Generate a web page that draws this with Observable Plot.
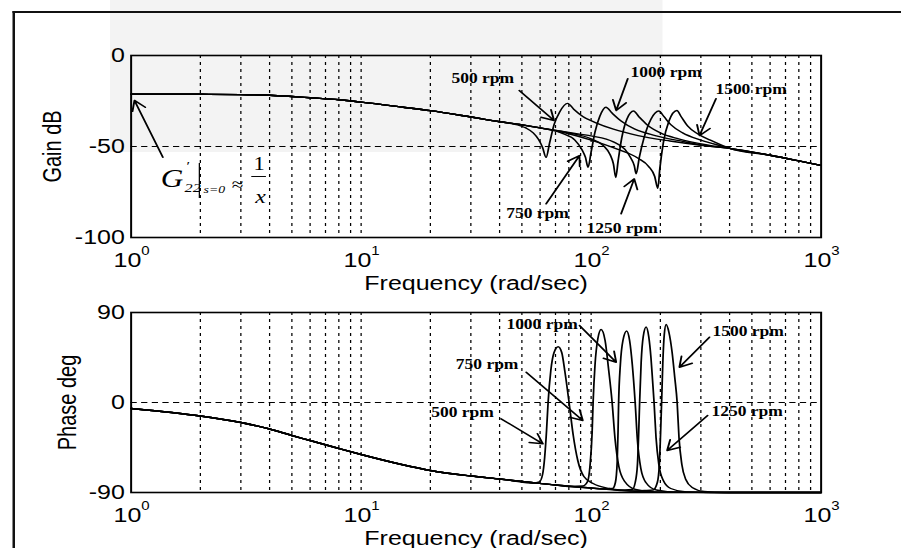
<!DOCTYPE html>
<html><head><meta charset="utf-8">
<script src="https://cdn.jsdelivr.net/npm/d3@7"></script>
<script src="https://cdn.jsdelivr.net/npm/@observablehq/plot@0.6"></script>
<style>
html,body{margin:0;padding:0;background:#fff;overflow:hidden;width:901px;height:548px}
#stage{position:absolute;left:0;top:0;width:721px;height:548px;transform:scaleX(1.25);transform-origin:0 0}
#shade{position:absolute;left:88px;top:0;width:442px;height:152px;background:#f3f3f3}
#frame{position:absolute;left:9.6px;top:11px;width:760px;height:600px;border-left:2px solid #111;border-top:2px solid #111}
#top,#bot{position:absolute;left:0}
#top{top:0}
#bot{top:290px}
</style></head><body>
<div id="stage"><div id="shade"></div><div id="frame"></div><div id="top"></div><div id="bot"></div></div>
<script>
// ---------- data ----------
const rpmNames = ["500 rpm", "750 rpm", "1000 rpm", "1250 rpm", "1500 rpm"];
const gridFreqs = [2,3,4,5,6,7,8,9,10,20,30,40,50,60,70,80,90,100,200,300,400,500,600,700,800,900];
const decades = [1, 10, 100, 1000];
const decadeExp = ["0", "1", "2", "3"];
const gainTicks = [0, -50, -100];
const phaseTicks = [90, 0, -90];
const gainGrid = [-50];
const phaseGrid = [0];

// gain, shared low-frequency response (rad/s, dB)
const gainBaseF = [1,1.5,2,3,4,5,6,8,10,15,20,30,40,50,60,80,100,150,200,300,400,600,800,1000];
const gainBaseV = [-21.2,-21.2,-21.3,-21.5,-21.8,-22.5,-23.2,-24.3,-25.6,-28.3,-30.3,-33.8,-36.4,-38.1,-39.8,-42.3,-44.0,-46.3,-47.7,-49.6,-51.0,-54.8,-57.9,-60.4];
// gain near each resonance
const g500F = [45,52,56,59,61.5,63.7,66,69,73,79,84,92,105,125,160,220,300];
const g500V = [-37.4,-39.8,-42.5,-46,-50.5,-56,-48,-38,-31,-26.3,-29.5,-33.5,-37,-40.5,-44,-47,-49.3];
const g750F = [60,75,85,91,94.5,97,100,104,109,116,123,135,155,190,250,330];
const g750V = [-39.8,-42.8,-46.5,-51.5,-56,-61.4,-53,-42,-33.5,-28.4,-31.5,-36,-40.5,-44,-47.2,-49.9];
const g1000F = [80,100,113,121,125,128,131,136,143,153,161,175,200,240,320];
const g1000V = [-42.5,-45.8,-49.5,-54.5,-59.5,-67,-58,-45,-35,-30.5,-33.5,-38,-42.5,-45.8,-49.2];
const g1250F = [100,125,140,149,154,157,162,170,182,197,207,222,250,300,380];
const g1250V = [-44.2,-47.5,-51.5,-56.5,-60.5,-65,-56,-45,-35,-30.5,-33.5,-38,-42.5,-46.5,-50.2];
const g1500F = [80,100,130,160,178,189,195,199,206,218,236,246,262,290,330,400];
const g1500V = [-43,-46.5,-51.5,-56.5,-61,-66.5,-73,-62,-48,-36,-30.2,-33.5,-38.5,-43,-46.5,-51];

// phase, shared response (rad/s, deg)
const phaseBaseF = [1,1.5,2,3,4,5,6,8,10,15,20,30,40,55,70,100,150,250,400,1000];
const phaseBaseV = [-6,-10,-13.5,-20,-26.5,-33,-38,-46,-52,-62,-68,-73.5,-76.5,-80,-82.5,-85.5,-88.5,-89.7,-90,-90];
const p500F = [45,56,59.5,61.5,62.8,64,65,66.8,69,71.9,74.5,77,80.2,83.5,87.5,93,102,120,150,200];
const p500V = [-78,-80.5,-79.5,-72,-55,-28,0,32,50,55.7,50,30,0,-32,-58,-74,-81,-86,-88.5,-89.6];
const p750F = [80,92,96.5,99,101,102,104,107,110.5,115,119,123.4,127,132,140,156,190];
const p750V = [-84,-83.5,-79,-62,-30,0,38,64,73,62,34,0,-36,-64,-79,-87,-89.5];
const p1000F = [110,124,127.5,129.8,130.9,131.7,134,137.5,142.7,147,151,155.4,159,164.5,173,192,240];
const p1000V = [-86.5,-86,-80,-60,-30,0,38,62,71.5,62,38,0,-38,-66,-80,-87.5,-89.8];
const p1250F = [140,151,155.5,159,161,162.5,165,168.5,173.4,178,182,185,187.8,191.5,197,206,222,260];
const p1250V = [-87.5,-87,-80,-62,-30,0,40,66,75.5,66,45,22,0,-35,-62,-78,-86,-89.5];
const p1500F = [170,186,194,198,200.5,202.5,205,208,211.8,218,225,231,236.6,241,248,258,275,310,380];
const p1500V = [-88,-87.5,-80,-62,-30,0,40,68,78,70,50,25,0,-35,-62,-77,-85,-89,-90];

// annotations (data coordinates)
const gainLabelF = [33.8, 211.8, 496, 58.5, 136.4];
const gainLabelV = [-12.6, -9.2, -18.8, -87, -95.2];
const gainLabelT = ["500 rpm", "1000 rpm", "1500 rpm", "750 rpm", "1250 rpm"];
const gainArrowF1 = [48.7, 144.3, 349, 63.7, 135, 1.374];
const gainArrowV1 = [-19.2, -12.8, -23.8, -81.5, -87, -55.9];
const gainArrowF2 = [69, 128.5, 296, 89, 154, 1.034];
const gainArrowV2 = [-35.7, -30.2, -44, -55, -67.8, -24.7];

const phaseLabelF = [61.2, 35.3, 27.6, 481.5, 476.6];
const phaseLabelV = [78, 38, -10, 71.3, -8.7];
const phaseLabelT = ["1000 rpm", "750 rpm", "500 rpm", "1500 rpm", "1250 rpm"];
const phaseArrowF1 = [89, 52.2, 40.6, 327, 321];
const phaseArrowV1 = [77, 30.3, -16.3, 65.3, -13];
const phaseArrowF2 = [128.5, 92, 61.7, 242, 214];
const phaseArrowV2 = [40.3, -18, -41.3, 35.3, -48];

const noteT = ["G", "′", "22", "s=0", "≈", "1", "x"];
const noteF = [1.507, 1.77, 1.851, 2.3, 2.9, 3.6, 3.65];
const noteV = [-68.1, -60.5, -72.5, -73.6, -70.9, -59.9, -77.5];
const evalBarF = [1.98];
const evalBarV = [-59.3, -78.6];
const fracBarV = [-66.5];
const fracBarF = [3.35, 3.88];

// ---------- build series ----------
function series(baseF, baseV, winF, winV, name) {
  const lo = winF[0], hi = winF[winF.length - 1], pts = [];
  baseF.forEach((f, i) => { if (f < lo) pts.push({f, v: baseV[i], name}); });
  winF.forEach((f, i) => pts.push({f, v: winV[i], name}));
  baseF.forEach((f, i) => { if (f > hi) pts.push({f, v: baseV[i], name}); });
  return pts;
}
const gainSeries = [
  series(gainBaseF, gainBaseV, g500F, g500V, rpmNames[0]),
  series(gainBaseF, gainBaseV, g750F, g750V, rpmNames[1]),
  series(gainBaseF, gainBaseV, g1000F, g1000V, rpmNames[2]),
  series(gainBaseF, gainBaseV, g1250F, g1250V, rpmNames[3]),
  series(gainBaseF, gainBaseV, g1500F, g1500V, rpmNames[4])
].flat();
const phaseSeries = [
  series(phaseBaseF, phaseBaseV, p500F, p500V, rpmNames[0]),
  series(phaseBaseF, phaseBaseV, p750F, p750V, rpmNames[1]),
  series(phaseBaseF, phaseBaseV, p1000F, p1000V, rpmNames[2]),
  series(phaseBaseF, phaseBaseV, p1250F, p1250V, rpmNames[3]),
  series(phaseBaseF, phaseBaseV, p1500F, p1500V, rpmNames[4])
].flat();

const SANS = "Liberation Sans, Arial, sans-serif";
const SERIF = "Liberation Serif, Times New Roman, serif";
const idx5 = d3.range(5);

function commonMarks(yTicks, yGrid, lineData) {
  return [
    Plot.ruleX(gridFreqs, {stroke: "#000", strokeWidth: 1, strokeDasharray: "3,4"}),
    Plot.ruleY(yGrid, {stroke: "#000", strokeWidth: 1, strokeDasharray: "5,3.5"}),
    Plot.line(lineData, {x: "f", y: "v", z: "name", stroke: "#000", strokeWidth: 1.4, curve: "monotone-x"}),
    Plot.frame({stroke: "#000", strokeWidth: 1.6}),
    Plot.text(yTicks, {y: d => d, text: d => String(d), frameAnchor: "left", textAnchor: "end", lineAnchor: "middle", dx: -5, fontSize: 20, fontFamily: SANS}),
    Plot.text(decades, {x: d => d, text: () => "10", frameAnchor: "bottom", textAnchor: "middle", lineAnchor: "middle", dy: 23, dx: -3, fontSize: 20, fontFamily: SANS}),
    Plot.text(decades, {x: d => d, text: (d, i) => decadeExp[i], frameAnchor: "bottom", textAnchor: "middle", lineAnchor: "middle", dy: 14, dx: 11.5, fontSize: 12, fontFamily: SANS}),
    Plot.text(["Frequency (rad/sec)"], {text: d => d, frameAnchor: "bottom", textAnchor: "middle", lineAnchor: "middle", dy: 46, fontSize: 20, fontFamily: SANS})
  ];
}

const topPlot = Plot.plot({
  width: 721, height: 290,
  marginLeft: 104.4, marginRight: 64.6, marginTop: 55, marginBottom: 53,
  style: {background: "transparent", overflow: "visible"},
  x: {type: "log", domain: [1, 1000], axis: null},
  y: {domain: [-100, 0], axis: null},
  marks: [
    ...commonMarks(gainTicks, gainGrid, gainSeries),
    Plot.text(["Gain dB"], {text: d => d, y: () => -50, frameAnchor: "left", rotate: -90, textAnchor: "middle", lineAnchor: "middle", dx: -62.4, fontSize: 20, fontFamily: SANS}),
    Plot.arrow(d3.range(6), {x1: i => gainArrowF1[i], y1: i => gainArrowV1[i], x2: i => gainArrowF2[i], y2: i => gainArrowV2[i], stroke: "#000", strokeWidth: 1.5, headLength: 11}),
    Plot.text(idx5, {x: i => gainLabelF[i], y: i => gainLabelV[i], text: i => gainLabelT[i], fontFamily: SERIF, fontWeight: "bold", fontSize: 14, lineAnchor: "middle"}),
    Plot.text([0], {x: i => noteF[i], y: i => noteV[i], text: i => noteT[i], fontFamily: SERIF, fontStyle: "italic", fontSize: 25, lineAnchor: "middle"}),
    Plot.text([1], {x: i => noteF[i], y: i => noteV[i], text: i => noteT[i], fontFamily: SERIF, fontSize: 13, lineAnchor: "middle"}),
    Plot.text([2], {x: i => noteF[i], y: i => noteV[i], text: i => noteT[i], fontFamily: SERIF, fontStyle: "italic", fontSize: 13, lineAnchor: "middle"}),
    Plot.text([3], {x: i => noteF[i], y: i => noteV[i], text: i => noteT[i], fontFamily: SERIF, fontStyle: "italic", fontSize: 11, lineAnchor: "middle"}),
    Plot.text([4], {x: i => noteF[i], y: i => noteV[i], text: i => noteT[i], fontFamily: SERIF, fontSize: 17, lineAnchor: "middle"}),
    Plot.text([5], {x: i => noteF[i], y: i => noteV[i], text: i => noteT[i], fontFamily: SERIF, fontSize: 18, lineAnchor: "middle"}),
    Plot.text([6], {x: i => noteF[i], y: i => noteV[i], text: i => noteT[i], fontFamily: SERIF, fontStyle: "italic", fontSize: 19, lineAnchor: "middle"}),
    Plot.ruleX(evalBarF, {y1: () => evalBarV[0], y2: () => evalBarV[1], stroke: "#000", strokeWidth: 1}),
    Plot.ruleY(fracBarV, {x1: () => fracBarF[0], x2: () => fracBarF[1], stroke: "#000", strokeWidth: 1})
  ]
});
document.getElementById("top").appendChild(topPlot);

const botPlot = Plot.plot({
  width: 721, height: 258,
  marginLeft: 104.4, marginRight: 64.6, marginTop: 22, marginBottom: 56,
  style: {background: "transparent", overflow: "visible"},
  x: {type: "log", domain: [1, 1000], axis: null},
  y: {domain: [-90, 90], axis: null},
  marks: [
    ...commonMarks(phaseTicks, phaseGrid, phaseSeries),
    Plot.text(["Phase deg"], {text: d => d, y: () => 0, frameAnchor: "left", rotate: -90, textAnchor: "middle", lineAnchor: "middle", dx: -50.4, fontSize: 20, fontFamily: SANS}),
    Plot.arrow(idx5, {x1: i => phaseArrowF1[i], y1: i => phaseArrowV1[i], x2: i => phaseArrowF2[i], y2: i => phaseArrowV2[i], stroke: "#000", strokeWidth: 1.5, headLength: 11}),
    Plot.text(idx5, {x: i => phaseLabelF[i], y: i => phaseLabelV[i], text: i => phaseLabelT[i], fontFamily: SERIF, fontWeight: "bold", fontSize: 14, lineAnchor: "middle"})
  ]
});
document.getElementById("bot").appendChild(botPlot);
</script></body></html>
